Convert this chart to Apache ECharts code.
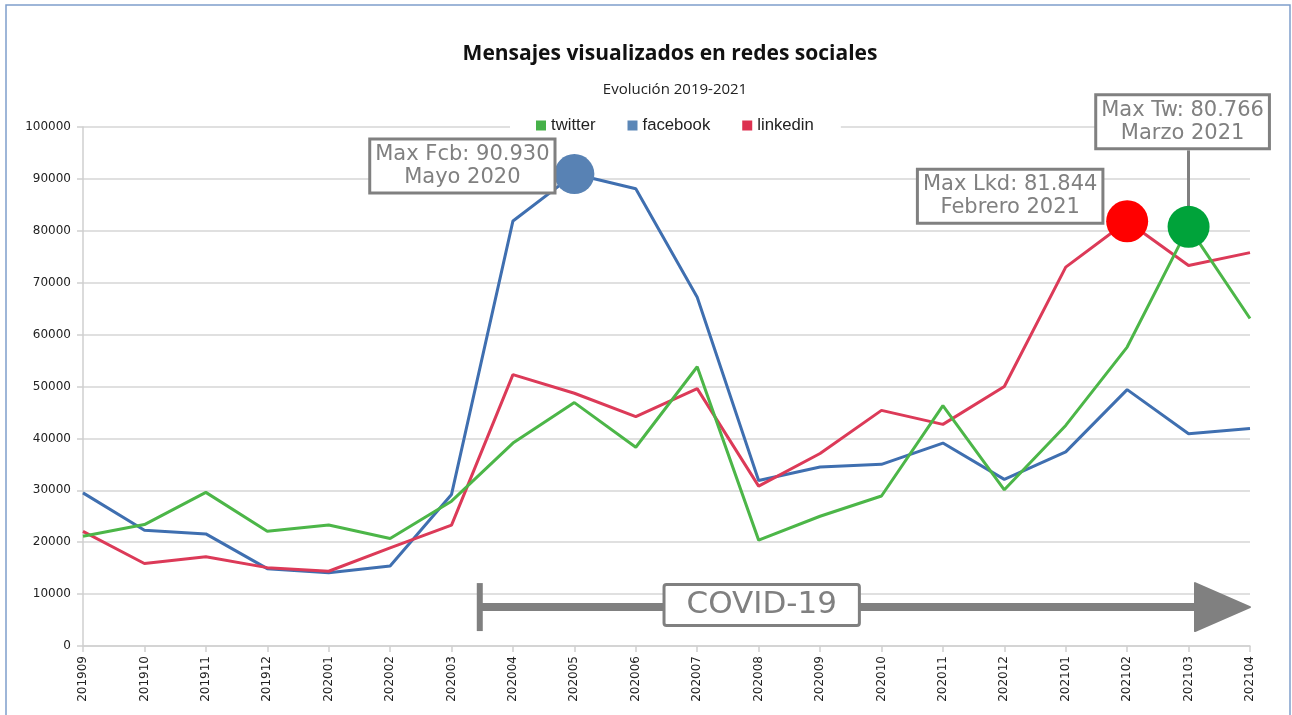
<!DOCTYPE html>
<html>
<head>
<meta charset="utf-8">
<script src="https://cdn.jsdelivr.net/npm/echarts@6/dist/echarts.min.js"></script>
<style>
  html, body { margin: 0; padding: 0; background: #fff; }
  #graph { width: 1292px; height: 715px; }
</style>
</head>
<body>
<div id="graph"></div>
<script>
// meses (eje x)
var meses = ['201909','201910','201911','201912','202001','202002','202003','202004','202005','202006',
             '202007','202008','202009','202010','202011','202012','202101','202102','202103','202104'];

var twitter  = [21150, 23400, 29600, 22100, 23300, 20700, 27900, 39100, 46900, 38300,
                53800, 20400, 25000, 28900, 46300, 30100, 42500, 57600, 80766, 63100];
var facebook = [29500, 22300, 21600, 14900, 14100, 15400, 29200, 81900, 90930, 88100,
                67200, 31900, 34500, 35000, 39100, 32100, 37400, 49400, 40900, 41900];
var linkedin = [22100, 15900, 17200, 15100, 14400, 18900, 23300, 52300, 48700, 44200,
                49600, 30800, 37100, 45400, 42700, 50000, 73000, 81844, 73300, 75800];

var nombresMes = ['Enero','Febrero','Marzo','Abril','Mayo','Junio','Julio','Agosto',
                  'Septiembre','Octubre','Noviembre','Diciembre'];

// flecha COVID-19: [inicio (indice), nivel, fin (indice)]
var covid = [6.46, 7500, 19];
var covidTexto = 'COVID-19';

var gris = '#808080';

function formatNumber(num) {
    var s = String(num), re = /(\d)(\d{3})(\.|$)/;
    while (re.test(s)) s = s.replace(re, '$1.$2$3');
    return s;
}

function etiquetaMax(prefijo) {
    return function (p) {
        var c = p.data.coord[0];
        var mes = typeof c === 'string' ? c : meses[c];
        return prefijo + ': ' + formatNumber(p.value) + '\n' +
            nombresMes[parseInt(mes.slice(4), 10) - 1] + ' ' + mes.slice(0, 4);
    };
}

var boxLabel = {
    show: true,
    color: gris,
    fontFamily: 'DejaVu Sans',
    fontSize: 21,
    lineHeight: 23,
    backgroundColor: '#fff',
    borderColor: gris,
    borderWidth: 3,
    padding: [3, 4, 2, 4],
    align: 'center',
    verticalAlign: 'middle'
};

var chart = echarts.init(document.getElementById('graph'));

var option = {
    animation: false,
    backgroundColor: '#fff',
    title: [{
        text: 'Mensajes visualizados en redes sociales',
        left: 665, top: 39, textAlign: 'center',
        textStyle: { fontFamily: 'Open Sans', fontWeight: 'bold', fontSize: 21, color: '#111' }
    }, {
        text: 'Evolución 2019-2021',
        left: 670, top: 77, textAlign: 'center',
        textStyle: { fontFamily: 'Open Sans', fontWeight: 'normal', fontSize: 15, color: '#222' }
    }],
    legend: {
        data: ['twitter', 'facebook', 'linkedin'],
        left: 510, top: 114,
        icon: 'rect', itemWidth: 10, itemHeight: 10, itemGap: 32,
        backgroundColor: '#fff',
        padding: [3, 27, 3, 26],
        textStyle: { fontFamily: 'Liberation Sans', fontSize: 16.7, color: '#222' }
    },
    grid: { left: 83, right: 42, top: 127, bottom: 69, containLabel: false },
    xAxis: [{
        type: 'category',
        data: meses,
        boundaryGap: false,
        axisLine: { lineStyle: { color: '#cfcfcf', width: 1.5 } },
        axisTick: { show: true, length: 6, lineStyle: { color: '#cfcfcf', width: 1.5 } },
        axisLabel: { rotate: 90, margin: 10, fontFamily: 'DejaVu Sans', fontSize: 12, color: '#222' },
        splitLine: { show: false }
    }, {
        type: 'value', min: 0, max: 19, show: false
    }],
    yAxis: {
        type: 'value', min: 0, max: 100000, interval: 10000,
        axisLine: { show: true, lineStyle: { color: '#cfcfcf', width: 1.5 } },
        axisTick: { show: true, length: 6, lineStyle: { color: '#cfcfcf', width: 1.5 } },
        axisLabel: {
            margin: 12, fontFamily: 'DejaVu Sans', fontSize: 12, color: '#222',
            formatter: function (v) { return String(v); }
        },
        splitLine: { lineStyle: { color: '#d6d6d6', width: 1.5 } }
    },
    graphic: [{
        type: 'rect', shape: { x: 6, y: 5, width: 1284, height: 730 },
        style: { fill: 'none', stroke: '#7f9fcb', lineWidth: 1.5 }, silent: true, z: 100
    }],
    series: [{
        name: 'twitter', type: 'line', data: twitter, showSymbol: false, symbol: 'none',
        itemStyle: { color: '#46b149' },
        lineStyle: { color: '#4cb648', width: 3 },
        z: 3,
        markLine: {
            silent: true, symbol: 'none', z: 4,
            label: { show: false },
            lineStyle: { color: gris, width: 3, type: 'solid' },
            data: [[{ coord: ['202103', 80766] }, { coord: ['202103', 95500] }]]
        },
        markPoint: {
            z: 10, symbol: 'circle', symbolSize: 42,
            itemStyle: { color: '#00a33a' },
            label: Object.assign({}, boxLabel, { position: [15, -84],
                formatter: etiquetaMax('Max Tw') }),
            data: [{ type: 'max' }]
        }
    }, {
        name: 'facebook', type: 'line', data: facebook, showSymbol: false, symbol: 'none',
        itemStyle: { color: '#5b87b7' },
        lineStyle: { color: '#3f6fb0', width: 3 },
        z: 2,
        markPoint: {
            z: 10, symbol: 'circle', symbolSize: 40,
            itemStyle: { color: '#5882b4' },
            label: Object.assign({}, boxLabel, { position: [-92, 12],
                formatter: etiquetaMax('Max Fcb') }),
            data: [{ type: 'max' }]
        }
    }, {
        name: 'linkedin', type: 'line', data: linkedin, showSymbol: false, symbol: 'none',
        itemStyle: { color: '#dc3150' },
        lineStyle: { color: '#dc3a58', width: 3 },
        z: 2,
        markPoint: {
            z: 10, symbol: 'circle', symbolSize: 42,
            itemStyle: { color: '#ff0000' },
            label: Object.assign({}, boxLabel, { position: [-96, -4],
                formatter: etiquetaMax('Max Lkd') }),
            data: [{ type: 'max' }]
        }
    }, {
        name: 'covid', type: 'custom', xAxisIndex: 1, yAxisIndex: 0,
        silent: true, z: 6,
        data: [covid],
        renderItem: function (params, api) {
            var a = api.coord([api.value(0), api.value(1)]);
            var b = api.coord([api.value(2), api.value(1)]);
            var mid = api.coord([11.05, api.value(1)]);
            var h = 24, punta = 55;
            return {
                type: 'group',
                children: [{
                    type: 'line',
                    shape: { x1: a[0], y1: a[1], x2: b[0] - punta + 2, y2: b[1] },
                    style: { stroke: gris, lineWidth: 8 }
                }, {
                    type: 'rect',
                    shape: { x: a[0] - 3, y: a[1] - h, width: 6, height: 2 * h },
                    style: { fill: gris }
                }, {
                    type: 'polygon',
                    shape: { points: [[b[0] - punta, b[1] - h], [b[0], b[1]], [b[0] - punta, b[1] + h]] },
                    style: { fill: gris, stroke: gris, lineWidth: 2, lineJoin: 'round' }
                }, {
                    type: 'text',
                    x: mid[0], y: mid[1] - 2,
                    style: {
                        text: covidTexto,
                        fill: gris,
                        fontFamily: 'DejaVu Sans',
                        fontSize: 31,
                        align: 'center', verticalAlign: 'middle',
                        backgroundColor: '#fff',
                        borderColor: gris, borderWidth: 3, borderRadius: 1,
                        padding: [4, 21, 3, 21]
                    }
                }]
            };
        }
    }]
};
chart.setOption(option);
</script>
</body>
</html>
